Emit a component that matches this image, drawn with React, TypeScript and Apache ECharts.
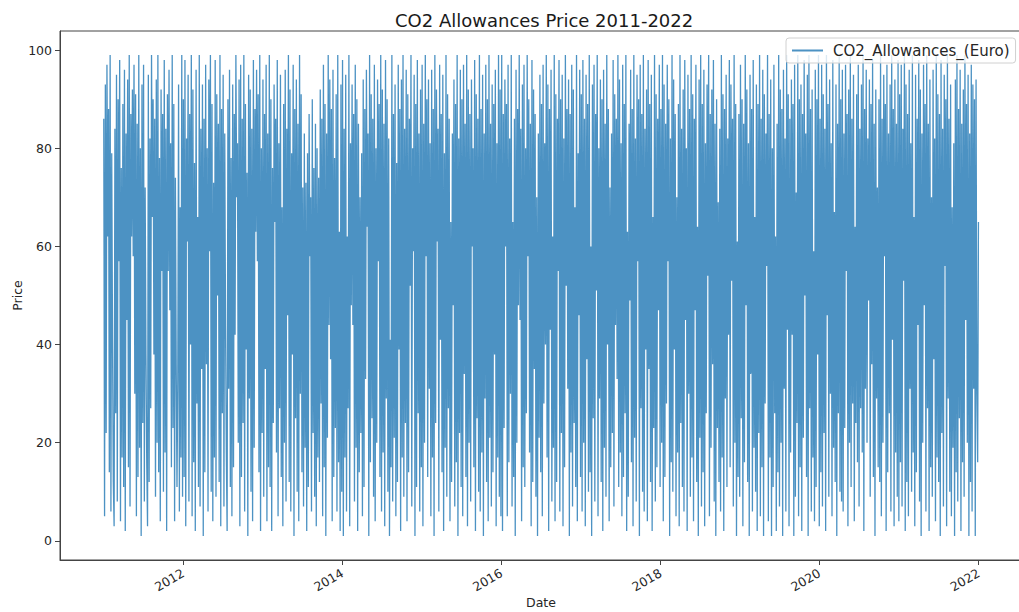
import React, { useEffect, useRef } from "react";
import * as echarts from "echarts";

const TITLE = "CO2 Allowances Price 2011-2022";
const SERIES_NAME = "CO2_Allowances_(Euro)";
const X_NAME = "Date";
const Y_NAME = "Price";
const START_DATE = Date.UTC(2011, 0, 1);
const END_DATE = Date.UTC(2021, 11, 31);
const X_MIN = Date.UTC(2010, 5, 14);
const X_MAX = Date.UTC(2022, 6, 19);
const YEAR_TICKS = [2012, 2014, 2016, 2018, 2020, 2022];
const PRICE_TICKS = [0, 20, 40, 60, 80, 100];

const prices2011 = [
  86,5,93,22,97,62,88,14,99,6,79,41,12,3,84,26,95,8,90,57,98,4,76,17,89,
  11,96,2,83,45,94,15,99,7,87,62,92,58,97,30,91,5,85,13,99,19,80,1,93,24,
  97,8,72,38,16,3,95,12,82,27,99,66,90,38,86,9,94,20,99,14,78,4,92,55,87,
  10,98,18,84,2,91,55,96,47,81,15,99,23,89,4,74,36,11,33,93,6,68,17,99,9,
];
const prices2012 = [
  90,13,98,3,82,61,95,8,87,40,99,5,92,16,77,2,96,28,66,11,99,7,84,35,93,
  1,86,14,97,36,80,6,94,59,99,10,89,4,73,17,98,9,91,50,85,12,99,3,88,26,
  95,7,83,44,18,2,90,31,96,11,78,5,93,15,87,42,99,70,81,20,94,3,97,13,86,
  24,99,6,89,39,75,1,95,29,92,10,84,4,98,19,88,63,96,57,91,14,99,2,80,22,
];
const prices2013 = [
  94,9,87,35,97,4,83,15,99,11,90,2,76,24,93,65,86,18,98,5,81,27,95,13,68,
  3,89,20,96,8,84,46,99,12,92,6,79,38,97,1,88,25,94,10,85,4,99,30,91,14,
  72,7,83,19,73,2,79,11,87,58,70,6,90,22,76,9,85,3,80,17,74,12,92,28,86,
  5,97,15,89,1,83,21,99,44,94,37,88,4,96,13,78,23,91,6,99,16,63,2,93,10,
];
const prices2014 = [
  98,1,84,17,95,6,62,27,99,3,81,48,93,44,87,8,97,19,90,2,85,14,70,22,79,
  5,94,11,88,33,96,64,83,1,99,16,91,25,86,9,97,4,80,20,94,57,89,13,99,6,
  92,18,85,3,98,29,90,10,82,1,41,15,99,8,87,21,93,5,77,12,97,39,88,2,94,
  17,99,9,84,24,96,4,91,14,86,52,99,7,80,59,95,1,89,11,98,26,83,6,92,15,
];
const prices2015 = [
  97,3,85,20,99,58,90,13,94,31,81,5,96,17,88,1,99,24,92,61,84,6,97,41,87,
  14,95,2,79,19,99,9,91,27,86,4,65,12,83,48,94,7,89,16,99,1,82,22,96,11,
  90,5,97,34,85,13,99,3,92,20,87,8,94,60,80,15,98,2,91,25,86,10,99,6,88,
  18,95,1,83,29,97,12,90,4,99,21,85,7,93,14,89,38,96,3,81,17,99,9,92,5,
];
const prices2016 = [
  99,2,87,23,94,60,89,5,97,16,82,30,99,7,65,13,86,1,96,20,88,48,99,45,84,
  4,93,15,97,11,80,26,99,58,90,18,85,3,98,12,92,35,87,9,70,1,83,21,95,14,
  89,5,97,28,81,40,99,17,93,2,88,43,96,8,62,19,99,4,91,12,86,55,98,6,90,
  22,95,3,82,15,99,52,88,31,94,1,87,18,97,7,92,24,68,11,99,4,79,46,96,13,
];
const prices2017 = [
  91,6,98,20,86,3,95,37,89,10,99,14,60,1,93,25,97,8,87,51,99,5,80,29,94,
  12,90,2,96,19,85,9,99,40,88,4,72,15,83,22,98,7,91,44,86,33,99,11,94,18,
  81,5,97,13,89,26,99,2,63,9,85,49,96,16,88,3,99,21,82,8,95,57,90,1,97,
  27,87,10,99,6,84,39,92,4,98,35,89,12,95,2,66,23,99,8,91,15,86,47,97,11,
];
const prices2018 = [
  88,20,99,4,93,13,85,28,97,57,90,1,82,16,99,10,94,39,87,5,70,18,89,3,99,
  24,84,11,92,6,98,45,80,2,95,30,88,9,99,17,91,4,86,47,97,12,64,1,94,21,
  99,7,89,14,96,3,81,26,93,54,99,5,87,19,92,36,98,8,85,1,90,23,69,12,84,
  6,99,17,91,2,88,29,95,11,82,42,98,15,93,53,86,7,99,20,89,1,61,13,87,9,
];
const prices2019 = [
  97,25,90,3,85,16,99,48,92,12,81,1,95,34,88,6,98,19,66,10,93,2,89,22,99,
  5,86,15,96,1,91,28,83,56,99,4,87,17,94,1,80,11,97,26,62,2,85,14,99,7,
  92,20,88,1,96,31,82,6,99,43,91,3,86,18,94,42,89,1,97,9,71,24,99,5,90,
  15,93,2,87,21,98,50,83,13,95,1,99,27,88,6,92,17,59,4,96,11,90,38,99,3,
];
const prices2020 = [
  86,14,97,7,91,22,84,2,99,46,89,9,94,30,81,5,98,19,67,12,93,1,85,26,99,
  10,90,8,96,6,83,23,97,55,87,3,92,20,99,11,86,28,95,4,64,24,91,16,97,7,
  84,27,93,18,99,2,88,31,96,20,82,49,94,9,89,36,98,13,85,1,92,29,72,15,90,
  12,99,5,86,20,95,58,89,2,97,14,83,26,93,6,99,41,88,3,94,18,85,9,98,4,
];
const prices2021 = [
  91,16,97,7,84,53,99,2,93,12,87,5,96,31,81,10,99,18,66,3,95,14,86,44,98,
  8,92,1,83,20,97,48,89,6,99,27,85,2,94,15,70,9,96,37,82,4,99,17,91,12,
  87,1,98,22,84,7,95,56,90,3,99,29,86,10,93,5,68,19,81,1,94,14,99,8,88,
  25,96,2,85,16,92,9,99,45,89,20,95,1,83,12,97,6,93,31,90,1,94,30,16,65,
];

const allPrices = [
  ...prices2011, ...prices2012, ...prices2013, ...prices2014, ...prices2015, ...prices2016,
  ...prices2017, ...prices2018, ...prices2019, ...prices2020, ...prices2021,
];

const FONT = "DejaVu Sans";
const TEXT_COLOR = "#262626";
const AXIS_COLOR = "#444";

export default function App() {
  const ref = useRef<HTMLDivElement>(null);
  useEffect(() => {
    if (!ref.current) return;
    const chart = echarts.init(ref.current, null, { renderer: "svg" });
    const n = allPrices.length;
    const step = (END_DATE - START_DATE) / (n - 1);
    const data = allPrices.map((v, i) => [START_DATE + i * step, v]);
    const yearTickValues = YEAR_TICKS.map((y) => Date.UTC(y, 0, 1));
    chart.setOption({
      animation: false,
      backgroundColor: "#fff",
      title: {
        text: TITLE,
        left: 390,
        top: 6,
        textStyle: { fontFamily: FONT, fontSize: 18, fontWeight: "normal", color: "#1a1a1a" },
      },
      legend: {
        left: 786,
        top: 38,
        icon: "rect",
        itemWidth: 31,
        itemHeight: 2,
        padding: [5, 6, 5, 6],
        backgroundColor: "rgba(255,255,255,0.8)",
        borderColor: "#d0d0d0",
        borderWidth: 1,
        borderRadius: 3,
        itemStyle: { color: "#1f77b4", opacity: 0.8 },
        textStyle: { fontFamily: FONT, fontSize: 15, color: TEXT_COLOR, padding: [0, 0, 0, 5] },
        data: [SERIES_NAME],
      },
      grid: {
        left: 60,
        top: 31,
        width: 962,
        height: 529,
        show: true,
        borderColor: AXIS_COLOR,
        borderWidth: 1,
        containLabel: false,
        outerBoundsMode: "none",
      },
      xAxis: {
        type: "value",
        min: X_MIN,
        max: X_MAX,
        name: X_NAME,
        nameLocation: "middle",
        nameGap: 36,
        nameMoveOverlap: false,
        nameTextStyle: { fontFamily: FONT, fontSize: 12.5, color: TEXT_COLOR },
        axisLine: { show: true, onZero: false, lineStyle: { color: AXIS_COLOR, width: 1 } },
        axisTick: { show: true, length: 5, customValues: yearTickValues, lineStyle: { color: AXIS_COLOR } },
        axisLabel: {
          customValues: yearTickValues,
          formatter: (v: number) => String(new Date(v).getUTCFullYear()),
          rotate: 30,
          margin: 12,
          fontFamily: FONT,
          fontSize: 12.5,
          color: TEXT_COLOR,
        },
        splitLine: { show: false },
      },
      yAxis: {
        type: "value",
        min: -3.9,
        max: 103.9,
        name: Y_NAME,
        nameLocation: "middle",
        nameRotate: 90,
        nameGap: 36,
        nameMoveOverlap: false,
        nameTextStyle: { fontFamily: FONT, fontSize: 12.5, color: TEXT_COLOR },
        axisLine: { show: true, onZero: false, lineStyle: { color: AXIS_COLOR, width: 1 } },
        axisTick: { show: true, length: 5, customValues: PRICE_TICKS, lineStyle: { color: AXIS_COLOR } },
        axisLabel: {
          customValues: PRICE_TICKS,
          margin: 8,
          fontFamily: FONT,
          fontSize: 12.5,
          color: TEXT_COLOR,
        },
        splitLine: { show: false },
      },
      series: [
        {
          name: SERIES_NAME,
          type: "line",
          data,
          symbol: "none",
          showSymbol: false,
          lineStyle: { color: "#1f77b4", width: 1.3, opacity: 0.8 },
          itemStyle: { color: "#1f77b4", opacity: 0.8 },
          z: 2,
        },
      ],
    });
    return () => chart.dispose();
  }, []);
  return (
    <div
      ref={ref}
      style={{ position: "fixed", left: 0, top: 0, width: 1019, height: 612, background: "#fff" }}
    />
  );
}
